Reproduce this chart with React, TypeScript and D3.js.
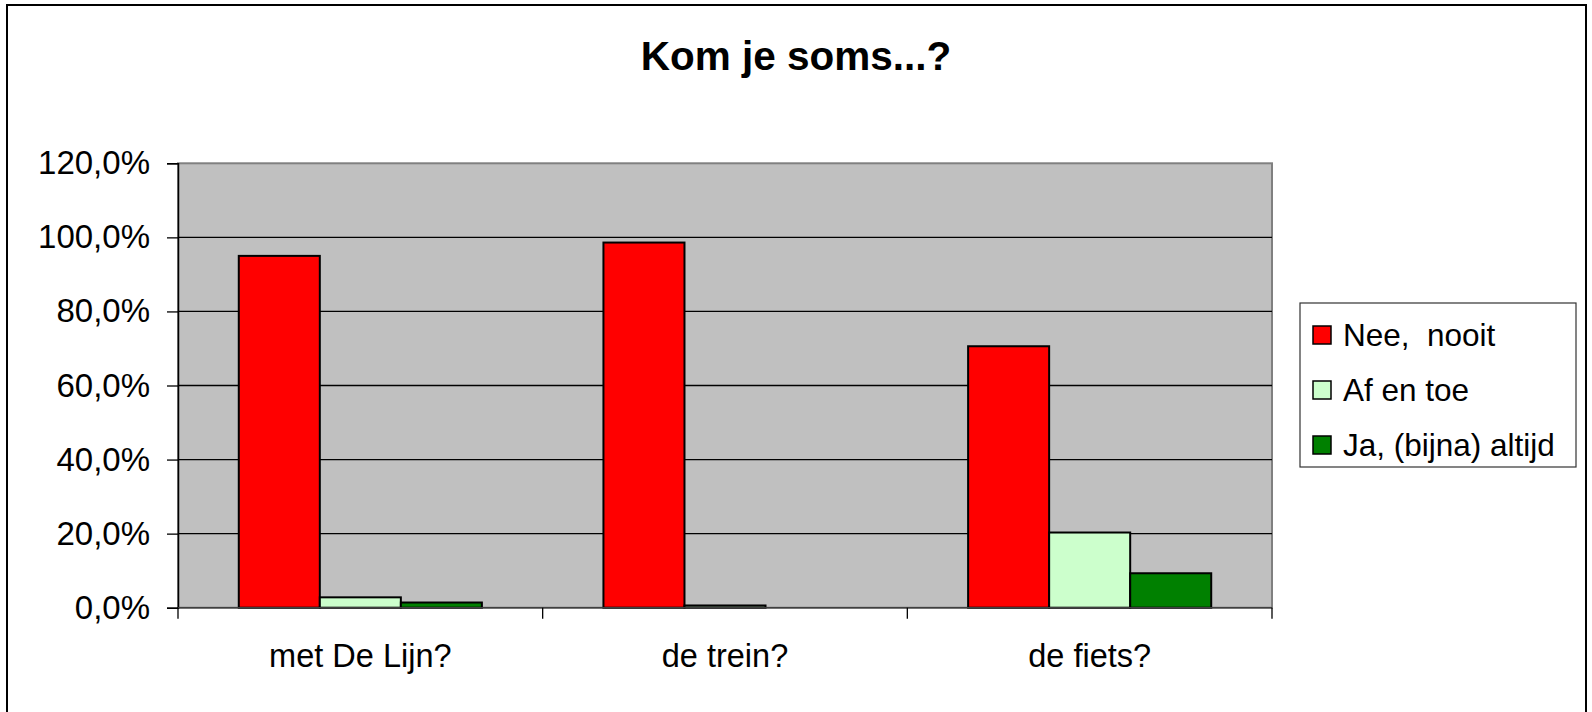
import React, { useEffect, useRef } from 'react';
import * as d3 from 'd3';

const categories = ['met De Lijn?', 'de trein?', 'de fiets?'];
const seriesNames = ['Nee, nooit', 'Af en toe', 'Ja, (bijna) altijd'];
const neeNooit = [0.95, 0.986, 0.706];
const afEnToe = [0.028, 0.006, 0.203];
const jaAltijd = [0.014, 0, 0.093];
const yTicks = [0, 0.2, 0.4, 0.6, 0.8, 1.0, 1.2];
const colors = ['#FF0000', '#CCFFCC', '#008000'];

const FONT = '"Liberation Sans", Arial, sans-serif';

export default function App() {
    const ref = useRef<SVGGElement>(null);

    useEffect(() => {
        const svg = d3.select(ref.current);
        svg.selectAll('*').remove();

        // plot area bounds
        const plot = { left: 178, right: 1272, top: 163.3, bottom: 607.7 };
        const series = [neeNooit, afEnToe, jaAltijd];

        // title
        svg.append('text')
            .attr('x', 796)
            .attr('y', 70)
            .attr('text-anchor', 'middle')
            .attr('font-family', FONT)
            .attr('font-weight', 'bold')
            .attr('font-size', 40.5)
            .text('Kom je soms...?');

        const x0 = d3.scaleBand()
            .domain(categories)
            .range([plot.left, plot.right])
            .paddingInner(0)
            .paddingOuter(0);
        // gap width 150% => bars take 3 / 4.5 of each category
        const x1 = d3.scaleBand()
            .domain(seriesNames)
            .range([0, x0.bandwidth()])
            .paddingInner(0)
            .paddingOuter(0.75);
        const y = d3.scaleLinear()
            .domain([0, 1.2])
            .range([plot.bottom, plot.top]);

        // plot background
        svg.append('rect')
            .attr('x', plot.left).attr('y', plot.top)
            .attr('width', plot.right - plot.left)
            .attr('height', plot.bottom - plot.top)
            .attr('fill', '#C0C0C0')
            .attr('stroke', '#808080')
            .attr('stroke-width', 2);

        // gridlines
        svg.append('g')
            .selectAll('line')
            .data(yTicks.filter(t => t > 0 && t < 1.2))
            .join('line')
            .attr('x1', plot.left).attr('x2', plot.right)
            .attr('y1', d => y(d)).attr('y2', d => y(d))
            .attr('stroke', '#000')
            .attr('stroke-width', 1.3);

        // y axis
        const yAxis = svg.append('g')
            .attr('transform', `translate(${plot.left},0)`)
            .call(d3.axisLeft(y)
                .tickValues(yTicks)
                .tickSize(11)
                .tickPadding(17)
                .tickFormat(d => (+d * 100).toFixed(1).replace('.', ',') + '%'));
        yAxis.select('.domain').attr('stroke', '#000').attr('stroke-width', 1.5);
        yAxis.selectAll('.tick line').attr('stroke', '#000').attr('stroke-width', 1.3);
        yAxis.selectAll('.tick text')
            .attr('font-family', FONT)
            .attr('font-size', 33)
            .attr('fill', '#000');

        // bars
        const groups = svg.append('g')
            .selectAll('g')
            .data(categories)
            .join('g')
            .attr('transform', d => `translate(${x0(d)},0)`);

        groups.selectAll('rect')
            .data((c, i) => series.map((s, k) => ({ name: seriesNames[k], value: s[i], color: colors[k] })))
            .join('rect')
            .filter(d => d.value > 0)
            .attr('x', d => x1(d.name)!)
            .attr('y', d => y(d.value))
            .attr('width', x1.bandwidth())
            .attr('height', d => plot.bottom - y(d.value))
            .attr('fill', d => d.color)
            .attr('stroke', '#000')
            .attr('stroke-width', 2);

        // x axis
        svg.append('line')
            .attr('x1', plot.left).attr('x2', plot.right)
            .attr('y1', plot.bottom).attr('y2', plot.bottom)
            .attr('stroke', '#404040')
            .attr('stroke-width', 1.5);
        const boundaries = categories.map(c => x0(c)!).concat([plot.right]);
        svg.append('g')
            .selectAll('line')
            .data(boundaries)
            .join('line')
            .attr('x1', d => d).attr('x2', d => d)
            .attr('y1', plot.bottom).attr('y2', plot.bottom + 11)
            .attr('stroke', '#000')
            .attr('stroke-width', 1.3);
        svg.append('g')
            .selectAll('text')
            .data(categories)
            .join('text')
            .attr('x', d => x0(d)! + x0.bandwidth() / 2)
            .attr('y', 667)
            .attr('text-anchor', 'middle')
            .attr('font-family', FONT)
            .attr('font-size', 32.5)
            .text(d => d);

        // legend
        const legend = svg.append('g');
        legend.append('rect')
            .attr('x', 1300).attr('y', 303)
            .attr('width', 276).attr('height', 164)
            .attr('fill', '#fff')
            .attr('stroke', '#333')
            .attr('stroke-width', 1.2);
        const items = legend.selectAll('g')
            .data(seriesNames)
            .join('g')
            .attr('transform', (d, i) => `translate(1313,${335 + i * 55})`);
        items.append('rect')
            .attr('x', 0).attr('y', -9)
            .attr('width', 18).attr('height', 18)
            .attr('fill', (d, i) => colors[i])
            .attr('stroke', '#000')
            .attr('stroke-width', 1.5);
        items.append('text')
            .attr('x', 30)
            .attr('y', 11)
            .attr('font-family', FONT)
            .attr('font-size', 31.5)
            .attr('xml:space', 'preserve')
            .text(d => d.replace(', n', ',  n'));
    }, []);

    return (
        <svg width={1592} height={712} style={{ position: 'absolute', left: 0, top: 0, display: 'block' }}>
            <rect x={0} y={0} width={1592} height={712} fill="#fff" />
            <g ref={ref} />
            {/* outer chart border */}
            <rect x={7} y={5} width={1579} height={730} fill="none" stroke="#000" strokeWidth={2} />
        </svg>
    );
}
